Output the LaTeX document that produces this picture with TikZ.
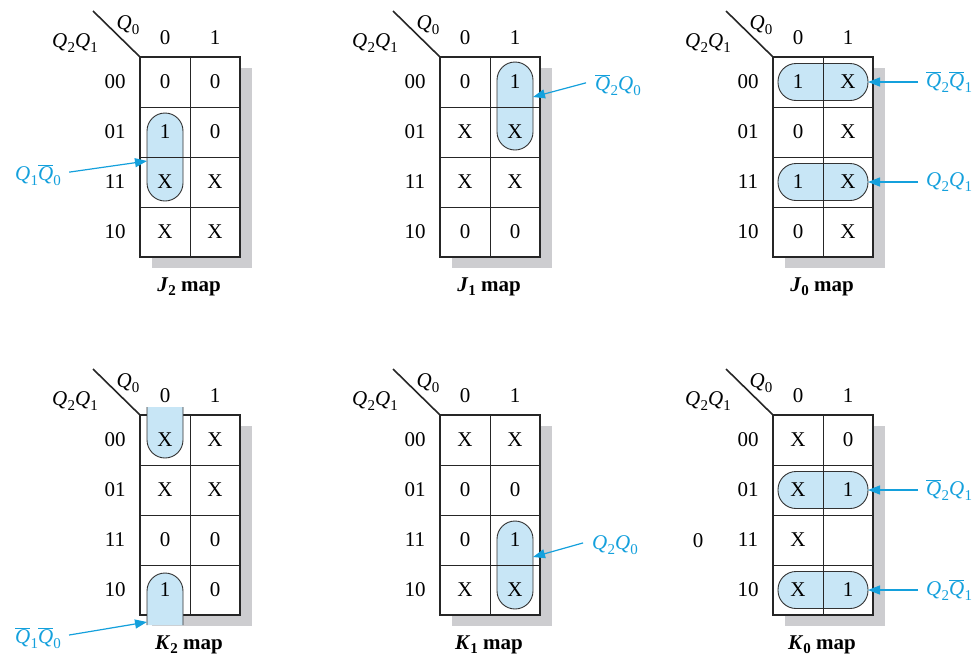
\documentclass[tikz,border=0pt]{standalone}
\usepackage{fontspec}
\setmainfont{Liberation Serif}
\usetikzlibrary{arrows.meta}
\definecolor{lblue}{RGB}{20,160,220}
\definecolor{lfill}{RGB}{200,230,246}
\definecolor{shgray}{RGB}{205,205,208}
\newcommand\Qv[1]{\textit{Q}\kern0.3pt\raisebox{-0.45ex}{\fontsize{15}{15}\selectfont #1}}
\newcommand\Qn[1]{$\overline{\hbox{\textit{Q}}}$\kern0.3pt\raisebox{-0.45ex}{\fontsize{15}{15}\selectfont #1}}
\newcommand\Ttl[2]{\textbf{\textit{#1}\raisebox{-0.45ex}{\fontsize{15}{15}\selectfont #2}~map}}
\newcommand\KMap[4]{%
  \fill[shgray] (#2+12,#3+11) rectangle (#2+112,#3+211);
  \node[gridbox] (#1) at (#2+50,#3+100) {};
  \draw[diagline] (#1.north west) -- ++(-47,-46);
  \node (#1-q0) at (#2-12,#3-32) {\Qv{0}};
  \node (#1-q21) at (#2-65,#3-14) {\Qv{2}\Qv{1}};
  \node (#1-h0) at (#2+25,#3-19) {0};
  \node (#1-h1) at (#2+75,#3-19) {1};
  \node (#1-r0) at (#2-25,#3+25) {00};
  \node (#1-r1) at (#2-25,#3+75) {01};
  \node (#1-r2) at (#2-25,#3+125) {11};
  \node (#1-r3) at (#2-25,#3+175) {10};
  \node (#1-t) at (#2+49,#3+230) {#4};
}
\newcommand\KLines[2]{%
  \draw[gridline] (#1+50,#2) -- (#1+50,#2+200);
  \foreach \k in {50,100,150} {\draw[gridline] (#1,#2+\k) -- (#1+100,#2+\k);}
}
\newcommand\KCells[4]{%
  \foreach \v [count=\i from 0] in {#4} {
    \pgfmathsetmacro\cx{#2+25+50*mod(\i,2)}
    \pgfmathsetmacro\cy{#3+25+50*floor(\i/2)}
    \node (#1-c\i) at (\cx,\cy) {\v};
  }
}
\begin{document}
\begin{tikzpicture}[x=1pt,y=-1pt,font=\fontsize{21}{25}\selectfont,
  gridbox/.style={draw=black!85,fill=white,line width=2.5pt,minimum width=100pt,minimum height=200pt,inner sep=0pt,outer sep=0pt},
  gridline/.style={draw=black!85,line width=1pt},
  diagline/.style={draw=black!85,line width=1.6pt},
  vloop/.style={draw=black!80,fill=lfill,line width=0.9pt,rounded corners=18pt,minimum width=36pt,minimum height=88pt,inner sep=0pt,outer sep=0pt},
  hloop/.style={draw=black!80,fill=lfill,line width=0.9pt,rounded corners=18pt,minimum width=90pt,minimum height=37pt,inner sep=0pt,outer sep=0pt},
  loopline/.style={draw=black!80,line width=0.9pt},
  lab/.style={text=lblue,inner sep=2pt},
  arr/.style={draw=lblue,line width=1.2pt,-{Triangle[length=12pt,width=9pt]}}]
\useasboundingbox (0,0) rectangle (979,659);

% ---------- J2 ----------
\KMap{j2}{140}{57}{\Ttl{J}{2}}
\node[vloop] (j2loop) at (165,157) {};
\KLines{140}{57}
\KCells{j2}{140}{57}{0,0,1,0,X,X,X,X}
\node[lab] (j2lab) at (38,175) {\Qv{1}\Qn{0}};
\draw[arr,shorten <=6pt] ([yshift=2pt]j2lab.east) -- ([yshift=-4pt]j2loop.west);

% ---------- J1 ----------
\KMap{j1}{440}{57}{\Ttl{J}{1}}
\node[vloop] (j1loop) at (515,106) {};
\KLines{440}{57}
\KCells{j1}{440}{57}{0,1,X,X,X,X,0,0}
\node[lab] (j1lab) at (618,85) {\Qn{2}\Qv{0}};
\draw[arr,shorten <=7pt] ([yshift=4pt]j1lab.west) -- ([yshift=9pt]j1loop.east);

% ---------- J0 ----------
\KMap{j0}{773}{57}{\Ttl{J}{0}}
\node[hloop] (j0loopA) at (823,82) {};
\node[hloop] (j0loopB) at (823,182) {};
\KLines{773}{57}
\KCells{j0}{773}{57}{1,X,0,X,1,X,0,X}
\node[lab,anchor=west] (j0labA) at (924,82) {\Qn{2}\Qn{1}};
\node[lab,anchor=west] (j0labB) at (924,182) {\Qv{2}\Qv{1}};
\draw[arr,shorten <=6pt] (j0labA.west) -- (j0loopA.east);
\draw[arr,shorten <=6pt] (j0labB.west) -- (j0loopB.east);

% ---------- K2 ----------
\KMap{k2}{140}{415}{\Ttl{K}{2}}
\fill[lfill] (147,407) -- (147,440) arc[start angle=180,end angle=360,radius=18pt] -- (183,407) -- cycle;
\draw[loopline] (147,407) -- (147,440) arc[start angle=180,end angle=360,radius=18pt] -- (183,407);
\fill[lfill] (147,625) -- (147,591) arc[start angle=180,end angle=0,radius=18pt] -- (183,625) -- cycle;
\draw[loopline] (147,625) -- (147,591) arc[start angle=180,end angle=0,radius=18pt] -- (183,625);
\coordinate (k2pt) at (147,622);
\KLines{140}{415}
\KCells{k2}{140}{415}{X,X,X,X,0,0,1,0}
\node[lab] (k2lab) at (38,638) {\Qn{1}\Qn{0}};
\draw[arr,shorten <=6pt] ([yshift=2pt]k2lab.east) -- (k2pt);

% ---------- K1 ----------
\KMap{k1}{440}{415}{\Ttl{K}{1}}
\node[vloop] (k1loop) at (515,565) {};
\KLines{440}{415}
\KCells{k1}{440}{415}{X,X,0,0,0,1,X,X}
\node[lab] (k1lab) at (615,545) {\Qv{2}\Qv{0}};
\draw[arr,shorten <=7pt] ([yshift=4pt]k1lab.west) -- ([yshift=8pt]k1loop.east);

% ---------- K0 ----------
\KMap{k0}{773}{415}{\Ttl{K}{0}}
\node[hloop] (k0loopA) at (823,490) {};
\node[hloop] (k0loopB) at (823,590) {};
\KLines{773}{415}
\KCells{k0}{773}{415}{X,0,X,1,X,{},X,1}
\node (k0stray) at (698,541) {0};
\node[lab,anchor=west] (k0labA) at (924,490) {\Qn{2}\Qv{1}};
\node[lab,anchor=west] (k0labB) at (924,590) {\Qv{2}\Qn{1}};
\draw[arr,shorten <=6pt] (k0labA.west) -- (k0loopA.east);
\draw[arr,shorten <=6pt] (k0labB.west) -- (k0loopB.east);
\end{tikzpicture}
\end{document}
